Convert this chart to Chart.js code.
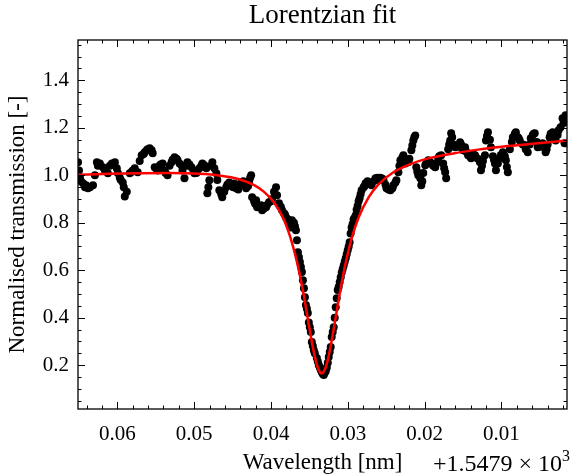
<!DOCTYPE html>
<html><head><meta charset="utf-8">
<script src="https://cdn.jsdelivr.net/npm/chart.js@4.4.0/dist/chart.umd.min.js"></script>
<style>html,body{margin:0;padding:0;background:#fff;}</style>
</head><body><canvas id="c" width="571" height="475"></canvas>
<script>
const titleText = "Lorentzian fit";
const xAxisLabel = "Wavelength [nm]";
const yAxisLabel = "Normalised transmission [-]";
const xOffsetLabel = "+1.5479 \u00d7 10";
const xOffsetExp = "3";
const xTickValues = [0.06, 0.05, 0.04, 0.03, 0.02, 0.01];
const yTickValues = [0.2, 0.4, 0.6, 0.8, 1.0, 1.2, 1.4];

// measured data: wavelength offset from 1547.9 nm, normalised transmission
const wavelength = [
0.06513,0.06500,0.06487,0.06448,0.06409,0.06383,0.06318,0.06293,0.06267,0.06228,
0.06189,0.06163,0.06124,0.06072,0.06033,0.06008,0.05969,0.05930,0.05904,0.05878,
0.05839,0.05800,0.05774,0.05736,0.05684,0.05645,0.05619,0.05580,0.05541,0.05515,
0.05476,0.05451,0.05412,0.05386,0.05347,0.05295,0.05256,0.05217,0.05191,0.05166,
0.05127,0.05088,0.05036,0.04997,0.04958,0.04932,0.04894,0.04868,0.04829,0.04803,
0.04764,0.04738,0.04712,0.04673,0.04635,0.04609,0.04583,0.04544,0.04518,0.04479,
0.04453,0.04414,0.04388,0.04350,0.04324,0.04285,0.04259,0.04246,0.04220,0.04194,
0.04181,0.04129,0.04116,0.04091,0.04052,0.04026,0.03987,0.03935,0.03922,0.03896,
0.03870,0.03857,0.03831,0.03806,0.03767,0.03741,0.03728,0.03702,0.03676,0.03663,
0.03650,0.03624,0.03598,0.03585,0.03572,0.03559,0.03546,0.03521,0.03508,0.03482,
0.03469,0.03443,0.03404,0.03378,0.03352,0.03326,0.03300,0.03274,0.03249,0.03223,
0.03210,0.03184,0.03171,0.03158,0.03145,0.03132,0.03106,0.03080,0.03054,0.03028,
0.03002,0.02977,0.02964,0.02951,0.02925,0.02899,0.02886,0.02860,0.02847,0.02821,
0.02795,0.02769,0.02730,0.02692,0.02666,0.02640,0.02601,0.02575,0.02536,0.02497,
0.02445,0.02407,0.02368,0.02342,0.02316,0.02277,0.02251,0.02212,0.02173,0.02148,
0.02122,0.02109,0.02083,0.02057,0.02044,0.02018,0.01992,0.01953,0.01914,0.01889,
0.01863,0.01824,0.01785,0.01759,0.01733,0.01720,0.01694,0.01668,0.01655,0.01629,
0.01604,0.01565,0.01539,0.01500,0.01474,0.01435,0.01396,0.01370,0.01344,0.01306,
0.01280,0.01267,0.01241,0.01215,0.01202,0.01176,0.01137,0.01111,0.01085,0.01072,
0.01047,0.01021,0.00982,0.00943,0.00917,0.00891,0.00852,0.00813,0.00787,0.00762,
0.00723,0.00697,0.00658,0.00619,0.00593,0.00567,0.00528,0.00490,0.00464,0.00425,
0.00399,0.00373,0.00334,0.00295,0.00269,0.00231,0.00205,0.00179,0.00166,
0.06474,0.06422,0.06357,0.06254,0.06150,0.06098,0.05995,0.05956,0.05917,0.05813,
0.05710,0.05658,0.05606,0.05554,0.05489,0.05438,0.05373,0.05321,0.05282,0.05230,
0.05153,0.05101,0.05062,0.05010,0.04971,0.04907,0.04842,0.04816,0.04777,0.04699,
0.04648,0.04570,0.04492,0.04427,0.04362,0.04298,0.04272,0.04207,0.04155,0.04065,
0.04000,0.03961,0.03883,0.03819,0.03780,0.03715,0.03689,0.03637,0.03611,0.03533,
0.03495,0.03456,0.03430,0.03391,0.03365,0.03339,0.03313,0.03287,0.03261,0.03236,
0.03197,0.03119,0.03093,0.03067,0.03041,0.03015,0.02989,0.02938,0.02912,0.02873,
0.02834,0.02782,0.02743,0.02705,0.02614,0.02549,0.02510,0.02471,0.02420,0.02381,
0.02329,0.02290,0.02238,0.02199,0.02161,0.02135,0.02096,0.02031,0.01979,0.01927,
0.01850,0.01811,0.01746,0.01681,0.01642,0.01591,0.01526,0.01461,0.01409,0.01332,
0.01254,0.01189,0.01150,0.01098,0.01008,0.00956,0.00930,0.00865,0.00826,0.00774,
0.00684,0.00632,0.00580,0.00541,0.00451,0.00412,0.00360,0.00321,0.00256,0.00192,
0.00153
];
const transmission = [
1.055,1.020,0.990,0.966,0.958,0.945,0.958,1.000,1.055,1.050,
1.034,1.020,1.008,1.050,1.055,1.030,0.990,0.970,0.910,0.930,
1.008,1.020,1.030,1.013,1.084,1.097,1.105,1.114,1.093,1.034,
1.020,1.040,1.050,1.020,1.000,1.055,1.076,1.063,1.050,1.042,
0.987,1.055,1.034,1.008,1.020,1.030,1.050,1.042,0.924,0.979,
1.055,1.030,1.008,0.937,0.907,0.930,0.950,0.970,0.958,0.965,
0.945,0.955,0.970,0.960,0.945,0.975,1.000,0.907,0.890,0.895,
0.865,0.874,0.853,0.860,0.875,0.886,0.900,0.950,0.916,0.882,
0.865,0.853,0.840,0.823,0.800,0.780,0.810,0.800,0.768,0.726,
0.676,0.634,0.592,0.558,0.524,0.486,0.453,0.420,0.380,0.340,
0.297,0.263,0.230,0.200,0.179,0.162,0.168,0.190,0.234,0.276,
0.318,0.360,0.400,0.444,0.482,0.516,0.550,0.590,0.620,0.650,
0.684,0.718,0.755,0.780,0.815,0.830,0.855,0.890,0.903,0.937,
0.950,0.966,0.970,0.958,0.975,0.987,0.980,0.990,0.979,0.945,
0.937,0.958,0.979,1.013,1.063,1.084,1.050,1.055,1.105,1.147,
1.168,1.034,1.000,0.987,0.958,1.010,1.042,1.063,1.050,1.040,
1.034,1.072,1.084,1.050,1.013,0.987,1.110,1.147,1.177,1.130,
1.118,1.120,1.139,1.105,1.118,1.084,1.072,1.090,1.084,1.070,
1.055,1.021,1.060,1.084,1.147,1.181,1.118,1.080,1.050,1.021,
1.050,1.072,1.097,1.063,1.013,1.110,1.160,1.181,1.160,1.147,
1.130,1.126,1.097,1.156,1.170,1.177,1.118,1.120,1.135,1.097,
1.130,1.160,1.181,1.147,1.170,1.202,1.240,1.135,1.253,
0.975,0.950,0.950,1.040,1.020,1.040,1.010,0.980,0.950,1.015,
1.060,1.090,1.110,1.105,1.025,1.045,1.010,1.040,1.065,1.070,
1.020,1.040,1.045,1.020,1.010,1.040,1.030,0.950,1.040,0.980,
0.920,0.960,0.950,0.940,0.975,0.955,0.990,0.880,0.870,0.865,
0.890,0.930,0.870,0.835,0.815,0.790,0.785,0.655,0.613,0.437,
0.360,0.280,0.250,0.215,0.190,0.170,0.158,0.175,0.210,0.255,
0.340,0.530,0.570,0.605,0.635,0.667,0.700,0.795,0.820,0.870,
0.920,0.955,0.975,0.965,0.990,0.985,0.960,0.940,0.945,0.970,
1.040,1.075,1.055,1.070,1.125,1.160,1.015,0.975,1.050,1.055,
1.050,1.080,1.030,1.130,1.160,1.125,1.130,1.100,1.078,1.075,
1.040,1.165,1.150,1.065,1.085,1.080,1.035,1.140,1.175,1.155,
1.110,1.130,1.175,1.140,1.120,1.110,1.175,1.170,1.190,1.220,
1.230
];

// Lorentzian fit curve
const fitWavelength = [
0.06513,0.06098,0.05710,0.05321,0.04932,0.04673,0.04414,0.04220,0.04091,0.03961,
0.03831,0.03728,0.03637,0.03572,0.03508,0.03456,0.03404,0.03365,0.03339,0.03313,
0.03274,0.03223,0.03171,0.03106,0.03041,0.02951,0.02860,0.02730,0.02601,0.02407,
0.02212,0.01953,0.01629,0.01306,0.00917,0.00528,0.00153
];
const fitTransmission = [
1.002,1.006,1.008,1.009,1.006,0.999,0.983,0.958,0.930,0.885,
0.811,0.716,0.598,0.491,0.370,0.276,0.202,0.171,0.165,0.172,
0.205,0.281,0.377,0.501,0.611,0.734,0.822,0.907,0.962,1.013,
1.044,1.071,1.092,1.108,1.123,1.135,1.146
];

const FONT = "'Liberation Serif', 'Times New Roman', serif";
const xMinorStep = 0.002, yMinorStep = 0.05;

const frameTicks = {
  id: 'frameTicks',
  afterDatasetsDraw(chart) {
    const {ctx, chartArea: a, scales: {x, y}} = chart;
    ctx.save();
    ctx.strokeStyle = '#000';
    ctx.lineWidth = 1;
    const seg = (x1, y1, x2, y2) => { ctx.beginPath(); ctx.moveTo(x1, y1); ctx.lineTo(x2, y2); ctx.stroke(); };
    const xs = Math.min(x.min, x.max), xe = Math.max(x.min, x.max);
    for (let i = Math.ceil(xs / xMinorStep - 1e-6); i * xMinorStep <= xe + 1e-9; i++) {
      const v = i * xMinorStep;
      const major = Math.abs(v / 0.01 - Math.round(v / 0.01)) < 1e-6;
      const L = major ? 7 : 3.5;
      const px = Math.round(x.getPixelForValue(v)) + 0.5;
      seg(px, a.bottom, px, a.bottom - L);
      seg(px, a.top, px, a.top + L);
    }
    for (let i = Math.ceil(y.min / yMinorStep - 1e-6); i * yMinorStep <= y.max + 1e-9; i++) {
      const v = i * yMinorStep;
      const major = Math.abs(v / 0.2 - Math.round(v / 0.2)) < 1e-6;
      const L = major ? 7 : 3.5;
      const py = Math.round(y.getPixelForValue(v)) + 0.5;
      seg(a.left, py, a.left + L, py);
      seg(a.right, py, a.right - L, py);
    }
    ctx.lineWidth = 1.3;
    ctx.strokeRect(a.left, a.top, a.right - a.left, a.bottom - a.top);
    // offset text
    ctx.fillStyle = '#000';
    ctx.textBaseline = 'alphabetic';
    ctx.font = "16px " + FONT;
    const ew = ctx.measureText(xOffsetExp).width;
    const rightX = 570;
    ctx.textAlign = 'right';
    ctx.fillText(xOffsetExp, rightX, 461);
    ctx.font = "24px " + FONT;
    ctx.fillText(xOffsetLabel, rightX - ew, 471);
    ctx.restore();
  }
};

const points = wavelength.map((w, i) => ({x: w, y: transmission[i]}));
const fitPoints = fitWavelength.map((w, i) => ({x: w, y: fitTransmission[i]}));

new Chart(document.getElementById('c'), {
  type: 'scatter',
  data: {
    datasets: [
      { type: 'line', data: fitPoints, borderColor: '#ff0000', borderWidth: 2.5,
        pointRadius: 0, fill: false, cubicInterpolationMode: 'monotone', order: 1, clip: 0 },
      { type: 'scatter', data: points, backgroundColor: '#000000', borderWidth: 0,
        pointRadius: 4, order: 2, clip: 0 }
    ]
  },
  options: {
    responsive: false, animation: false, devicePixelRatio: 1,
    layout: { padding: { left: 0, right: 2, top: 0, bottom: 0 } },
    plugins: {
      legend: { display: false }, tooltip: { enabled: false },
      title: { display: true, fullSize: false, text: titleText, color: '#000',
        font: { family: FONT, size: 27, weight: 'normal', lineHeight: 1 },
        padding: { top: 2, bottom: 11 } }
    },
    scales: {
      x: {
        type: 'linear', reverse: true, min: 0.00147, max: 0.06513,
        grid: { display: false, drawTicks: false }, border: { display: false },
        afterBuildTicks: s => { s.ticks = xTickValues.map(v => ({ value: v })); },
        afterFit: s => { s.height = 66; },
        ticks: { color: '#000', font: { family: FONT, size: 21 }, padding: 13,
          maxRotation: 0, autoSkip: false, callback: v => Number(v).toFixed(2) },
        title: { display: true, text: xAxisLabel, color: '#000',
          font: { family: FONT, size: 23, lineHeight: 1 }, padding: { top: 0, bottom: 1 } }
      },
      y: {
        type: 'linear', min: 0.015, max: 1.57,
        grid: { display: false, drawTicks: false }, border: { display: false },
        afterBuildTicks: s => { s.ticks = yTickValues.map(v => ({ value: v })); },
        afterFit: s => { s.width = 78; },
        ticks: { color: '#000', font: { family: FONT, size: 21 }, padding: 9,
          autoSkip: false, callback: v => Number(v).toFixed(1) },
        title: { display: true, text: yAxisLabel, color: '#000',
          font: { family: FONT, size: 23, lineHeight: 1 }, padding: { top: 6, bottom: 0 } }
      }
    }
  },
  plugins: [frameTicks]
});
</script>
</body></html>
